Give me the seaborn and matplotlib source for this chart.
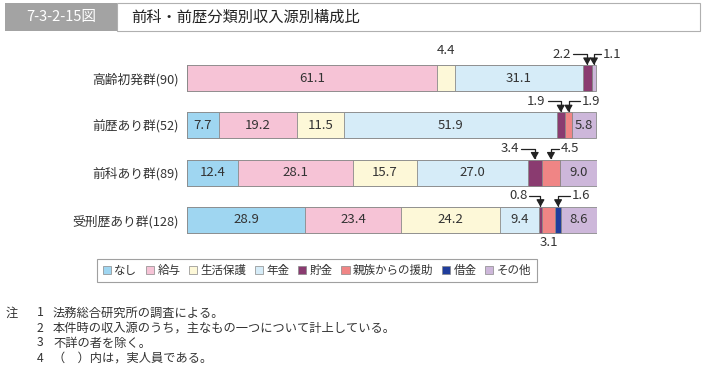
import matplotlib
matplotlib.use("Agg")
import matplotlib.pyplot as plt
from matplotlib.patches import Rectangle, Patch
import seaborn as sns
import pandas as pd
import numpy as np

sns.set_theme(style="white")
plt.rcParams['font.family'] = ['Noto Sans CJK JP', 'DejaVu Sans']

groups = ["高齢初発群(90)", "前歴あり群(52)", "前科あり群(89)", "受刑歴あり群(128)"]
sources = ["なし", "給与", "生活保護", "年金", "貯金", "親族からの援助", "借金", "その他"]
nashi = [0.0, 7.7, 12.4, 28.9]
kyuyo = [61.1, 19.2, 28.1, 23.4]
seikatsu = [4.4, 11.5, 15.7, 24.2]
nenkin = [31.1, 51.9, 27.0, 9.4]
chokin = [2.2, 1.9, 3.4, 0.8]
shinzoku = [0.0, 1.9, 4.5, 3.1]
shakkin = [0.0, 0.0, 0.0, 1.6]
sonota = [1.1, 5.8, 9.0, 8.6]
colors = ["#9fd6f1", "#f6c3d6", "#fdf8d8", "#d6ecf8", "#8a3b70", "#f08585", "#203d9c", "#cdb7da"]

series = [nashi, kyuyo, seikatsu, nenkin, chokin, shinzoku, shakkin, sonota]
vals = np.array(series)  # shape (8, 4)
cum = np.cumsum(vals, axis=0)
left = cum - vals

fig = plt.figure(figsize=(7.08, 3.71), dpi=100)
ax = fig.add_axes([187/708, 1 - 243.5/371, 410/708, 189/371])

bar_h = 0.55
for k in range(len(sources) - 1, -1, -1):
    df = pd.DataFrame({"group": groups, "value": cum[k]})
    sns.barplot(data=df, x="value", y="group", orient="h", color=colors[k],
                width=bar_h, edgecolor="#8a8a8a", linewidth=0.6, saturation=1,
                ax=ax)

ax.set_xlim(0, 100.1)
ax.set_ylim(3.5, -0.5)
ax.set_xlabel("")
ax.set_ylabel("")
ax.set_xticks([])
for s in ax.spines.values():
    s.set_visible(False)
ax.tick_params(axis="y", length=0, pad=6, labelsize=9.2, labelcolor="#333333")

txt_col = "#333333"
# inside labels
for g in range(len(groups)):
    for k in range(len(sources)):
        v = vals[k, g]
        if v >= 5:
            ax.text(left[k, g] + v / 2, g, f"{v:.1f}", ha="center", va="center",
                    fontsize=9.5, color=txt_col)

top = lambda g: g - bar_h / 2
bot = lambda g: g + bar_h / 2
# 4.4 above bar 0
ax.annotate(f"{seikatsu[0]:.1f}", xy=(left[2, 0] + vals[2, 0] / 2, top(0)),
            xytext=(0, 8), textcoords="offset pixels", ha="center", va="bottom",
            fontsize=9.5, color=txt_col)
# 3.1 below bar 3
ax.annotate(f"{shinzoku[3]:.1f}", xy=(left[5, 3] + vals[5, 3] / 2, bot(3)),
            xytext=(0, -3), textcoords="offset pixels", ha="center", va="top",
            fontsize=9.5, color=txt_col)

arrows = [
    (0, 4, -14), (0, 7, 7),
    (1, 4, -13), (1, 5, 11),
    (2, 4, -14), (2, 5, 8),
    (3, 4, -11), (3, 6, 12),
]
for g, k, dx in arrows:
    xc = left[k, g] + vals[k, g] / 2
    y0 = top(g)
    ax.annotate("", xy=(xc, y0), xytext=(dx, 11), textcoords="offset pixels",
                xycoords="data",
                arrowprops=dict(arrowstyle="-|>,head_length=0.35,head_width=0.2",
                                connectionstyle="angle,angleA=0,angleB=90,rad=0",
                                color="#222222", lw=0.9, shrinkA=0, shrinkB=0))
    ax.annotate(f"{vals[k, g]:.1f}", xy=(xc, y0),
                xytext=(dx + (-2 if dx < 0 else 2), 11), textcoords="offset pixels",
                ha="right" if dx < 0 else "left", va="center",
                fontsize=9.5, color=txt_col)

# legend
handles = [Patch(facecolor=c, edgecolor="#888888", linewidth=0.5) for c in colors]
leg = fig.legend(handles, sources, loc="center", bbox_to_anchor=(317/708, 1 - 270.5/371),
                 ncol=8, fontsize=8.3, frameon=True, fancybox=False,
                 handlelength=0.7, handleheight=0.7, handletextpad=0.3,
                 columnspacing=0.75, borderpad=0.45, labelcolor="#333333")
leg.get_frame().set_edgecolor("#888888")
leg.get_frame().set_linewidth(0.8)

# header
fig.patches.append(Rectangle((5/708, 1 - 31/371), 112/708, 28/371, transform=fig.transFigure,
                             facecolor="#a3a3a3", edgecolor="none"))
fig.patches.append(Rectangle((117/708, 1 - 31/371), 583/708, 28/371, transform=fig.transFigure,
                             facecolor="white", edgecolor="#b0b0b0", linewidth=0.8))
fig.text(61/708, 1 - 17/371, "7-3-2-15図", ha="center", va="center", color="white", fontsize=10.5)
fig.text(131/708, 1 - 17/371, "前科・前歴分類別収入源別構成比", ha="left", va="center",
         color="#222222", fontsize=11)

# notes
notes = ["法務総合研究所の調査による。",
         "本件時の収入源のうち，主なもの一つについて計上している。",
         "不詳の者を除く。",
         "（　）内は，実人員である。"]
fig.text(6/708, 1 - 313/371, "注", ha="left", va="center", fontsize=8.8, color="#333333")
for i, n in enumerate(notes):
    y = 1 - (313 + 15 * i) / 371
    fig.text(37/708, y, str(i + 1), ha="left", va="center", fontsize=8.8, color="#333333")
    fig.text(53/708, y, n, ha="left", va="center", fontsize=8.8, color="#333333")

fig.savefig("out.png", dpi=100)
